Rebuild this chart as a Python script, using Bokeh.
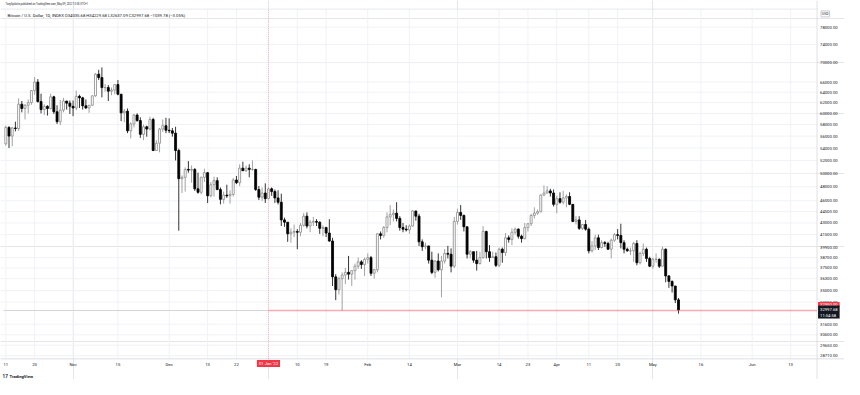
import numpy as np
import pandas as pd
from bokeh.plotting import figure
from bokeh.models import (Range1d, FixedTicker, NumeralTickFormatter, Label, ColumnDataSource,
                          DatetimeAxis, LogAxis)
from bokeh.embed import file_html
from bokeh.resources import INLINE

# ---------------- data (BTC/USD daily) ----------------
first_date = "2021-10-11"

opens = [
    54700, 57500, 56000, 57400, 57300, 61700, 60900, 61500, 62000, 64300, 66000, 62200, 60700, 61300, 60900, 63100, 60300, 58500, 60600, 62300, 61900,
    61300, 61000, 63200, 62900, 61400, 61000, 61500, 63300, 67600, 66900, 64900, 64900, 64200, 64400, 65500, 63600, 60100, 60400, 56900, 58100, 59700, 58700, 56300, 57600, 57200, 58900, 53600, 54800, 57200, 57800,
    57000, 56900, 56500, 53600, 49200, 49400, 50600, 50500, 50600, 47700, 47200, 49400, 50100, 46700, 48300, 48900, 47600, 46200, 46800, 46700, 46900, 49000, 48600, 50800, 50400, 50800, 50600, 50600, 47600, 46500, 47100,
    46300, 47700, 47300, 46400, 45800, 43400, 43100, 41600, 41800, 41900, 41800, 42700, 43900, 42600, 43100, 43200, 43100, 42300, 42400, 41700, 40700, 36500, 35100, 36300, 36700, 37000, 36800, 37200, 37700, 38200, 37900,
    38500, 38700, 36900, 37300, 41600, 41400, 42400, 43800, 44100, 44300, 43600, 42400, 42200, 42100, 42600, 44600, 43900, 40600, 40000, 40100, 38400, 37000, 38300, 37300, 38300, 39200, 39100, 37700,
    43200, 44400, 44000, 42500, 39100, 39400, 38400, 38000, 38700, 41900, 39400, 38700, 38800, 37800, 39700, 39300, 41100, 40900, 41800, 42200, 41300, 41000, 42400, 42900, 44000, 44300, 44500, 46800, 47100, 47400, 47100,
    45500, 46300, 45800, 46400, 46600, 45500, 43200, 43400, 42300, 42800, 42200, 39500, 40100, 41100, 39900, 40500, 40400, 39700, 40800, 41500, 41400, 40500, 39700, 39500, 39500, 40400, 38100, 39200, 39700, 38600,
    37700, 38500, 38500, 37700, 39700, 36600, 36000, 35500, 34035.68,
]
highs = [
    57800, 57700, 57600, 58500, 62800, 62300, 61700, 62600, 64400, 67000, 66600, 63700, 61700, 61500, 63700, 63300, 61500, 62500, 62900, 62300, 62400,
    62400, 64300, 63500, 63100, 62600, 61500, 63300, 67800, 68500, 69000, 65600, 65400, 64900, 65500, 66400, 63600, 60800, 60900, 58400, 59900, 60000, 59300, 58000, 57800, 59400, 59200, 55300, 57400, 58900, 59200,
    59100, 57400, 57600, 53900, 49700, 50900, 51900, 51200, 50800, 50100, 49500, 50700, 50200, 48700, 49500, 49400, 47900, 47300, 48300, 47500, 49300, 49600, 51400, 51800, 51200, 51400, 52000, 50700, 48100, 47900, 48500,
    47900, 47900, 47600, 47500, 47000, 43700, 43100, 42300, 42800, 42200, 43000, 44300, 44400, 43400, 43800, 43500, 43200, 42700, 42500, 43500, 41100, 36800, 36500, 37000, 37500, 38900, 37200, 38000, 38700, 38400, 38700,
    39200, 38900, 37400, 41700, 41900, 42600, 44400, 45400, 44800, 45800, 43900, 43000, 42700, 42800, 44700, 44600, 44200, 40900, 40500, 40100, 39400, 38400, 39200, 38900, 39700, 40100, 39800, 43800,
    44900, 45400, 44100, 42500, 39600, 39400, 39500, 39400, 42600, 42000, 40200, 39400, 39300, 39900, 39900, 41700, 41400, 42300, 42400, 42300, 41500, 43000, 43000, 44200, 45100, 44800, 46900, 48200, 48100, 47700, 47600,
    46700, 47200, 47400, 46900, 47200, 45500, 43900, 43900, 42800, 43400, 42400, 40700, 41500, 41500, 40800, 40700, 40600, 41000, 41700, 42200, 42900, 40800, 39900, 39900, 40600, 40800, 39400, 40400, 39900, 38800,
    38700, 39200, 38600, 40000, 39800, 36700, 36100, 35500, 34229.68,
]
lows = [
    54400, 54000, 54300, 56800, 56900, 60200, 58900, 60000, 61600, 63500, 62000, 60000, 59700, 59600, 60700, 59900, 58100, 57900, 60200, 60700, 59900,
    59500, 60600, 61000, 60700, 60800, 60100, 61400, 63100, 66400, 63000, 64100, 62300, 63400, 63600, 63400, 58600, 58400, 56500, 55600, 57500, 58500, 55700, 55300, 55900, 57000, 53500, 53600, 53300, 56700, 56500,
    56500, 55900, 52000, 42000, 47100, 47300, 50100, 48600, 47400, 47000, 46900, 48700, 45700, 46500, 46600, 47500, 45500, 45600, 46400, 45600, 46600, 48400, 48100, 50400, 50200, 49400, 50400, 47400, 46100, 46000, 45700,
    46200, 46700, 45700, 45500, 42600, 42500, 40600, 40500, 41200, 39700, 41300, 42500, 42300, 41800, 42600, 42600, 41600, 41300, 41200, 40600, 35500, 34000, 34600, 32950, 35700, 36200, 35500, 36200, 37400, 37400, 36600,
    38000, 36600, 36300, 37000, 40900, 41100, 41800, 42700, 43200, 43200, 42000, 41800, 41900, 41600, 42500, 43300, 40100, 39500, 39700, 38000, 36800, 36400, 37100, 34300, 38000, 38600, 37000, 37500,
    42800, 43400, 41900, 38600, 38600, 38100, 37200, 37900, 38600, 38600, 38200, 38700, 37600, 37600, 38100, 38900, 40500, 40200, 41500, 41000, 40500, 40900, 41900, 42600, 43600, 44100, 44400, 46700, 47000, 46600, 45200,
    44300, 45600, 45500, 45100, 45400, 43100, 42800, 42100, 42100, 42000, 39200, 39300, 39600, 39600, 39800, 40000, 39600, 38600, 40600, 40900, 39800, 39200, 39400, 39000, 38200, 37800, 37900, 38900, 38200, 37600,
    37400, 38100, 37500, 37700, 35900, 35300, 34800, 33700, 32637.09,
]
closes = [
    57500, 56000, 57400, 57300, 61700, 60900, 61500, 62000, 64300, 66000, 62200, 60700, 61300, 60900, 63100, 60300, 58500, 60600, 62300, 61900, 61300,
    61000, 63200, 62900, 61400, 61000, 61500, 63300, 67600, 66900, 64900, 64900, 64200, 64400, 65500, 63600, 60100, 60400, 56900, 58100, 59700, 58700, 56300, 57600, 57200, 58900, 53600, 54800, 57200, 57800, 57000,
    56900, 56500, 53600, 49200, 49400, 50600, 50500, 50600, 47700, 47200, 49400, 50100, 46700, 48300, 48900, 47600, 46200, 46800, 46700, 46900, 49000, 48600, 50800, 50400, 50800, 50600, 50600, 47600, 46500, 47100, 46300,
    47700, 47300, 46400, 45800, 43400, 43100, 41600, 41800, 41900, 41800, 42700, 43900, 42600, 43100, 43200, 43100, 42300, 42400, 41700, 40700, 36500, 35100, 36300, 36700, 37000, 36800, 37200, 37700, 38200, 37900, 38500,
    38700, 36900, 37300, 41600, 41400, 42400, 43800, 44100, 44300, 43600, 42400, 42200, 42100, 42600, 44600, 43900, 40600, 40000, 40100, 38400, 37000, 38300, 37300, 38300, 39200, 39100, 37700, 43200,
    44400, 44000, 42500, 39100, 39400, 38400, 38000, 38700, 41900, 39400, 38700, 38800, 37800, 39700, 39300, 41100, 40900, 41800, 42200, 41300, 41000, 42400, 42900, 44000, 44300, 44500, 46800, 47100, 47400, 47100, 45500,
    46300, 45800, 46400, 46600, 45500, 43200, 43400, 42300, 42800, 42200, 39500, 40100, 41100, 39900, 40500, 40400, 39700, 40800, 41500, 41400, 40500, 39700, 39500, 39500, 40400, 38100, 39200, 39700, 38600, 37700,
    38500, 38500, 37700, 39700, 36600, 36000, 35500, 34037.46, 32997.68,
]

price_ticks = [28710, 29650, 30600, 31600, 33800, 35000, 36300, 37500, 38700, 39900,
               41500, 43000, 44500, 46000, 48000, 50000, 52000, 54000, 56000, 58000,
               60000, 62000, 64000, 66000, 70000, 74000, 78000]

date_ticks = ["2021-10-11", "2021-10-20", "2021-11-01", "2021-11-15", "2021-12-01", "2021-12-13",
              "2021-12-22", "2022-01-01", "2022-01-10", "2022-01-19", "2022-02-01", "2022-02-14",
              "2022-03-01", "2022-03-14", "2022-03-23", "2022-04-01", "2022-04-11", "2022-04-20",
              "2022-05-01", "2022-05-16", "2022-06-01", "2022-06-13"]
date_labels = ["11", "20", "Nov", "15", "Dec", "13", "22", "", "10", "19", "Feb", "14",
               "Mar", "14", "23", "Apr", "11", "20", "May", "16", "Jun", "13"]

hline_price = 32950
ray_start = "2022-01-01"
countdown = "11:54:58"

header = "TonySpilotro published on TradingView.com, May 09, 2022 13:05 UTC+1"
legend = "Bitcoin / U.S. Dollar, 1D, INDEX  O34035.68  H34229.68  L32637.09  C32997.68  \u22121039.78 (\u22123.05%)"

# ---------------- layout constants ----------------
FONT = "Roboto"
TXT = "#131722"
GRID = "#f1f2f6"
BORDER = "#d6d8de"
DAY = 86400000
W, H = 844, 379

view_x = (pd.Timestamp("2021-10-09 08:18"), pd.Timestamp("2022-06-29 19:40"))
view_y = (26714, 84573)
pane_left = pd.Timestamp("2021-10-10 07:00")
pane_right = pd.Timestamp("2022-06-21 06:00")   # price scale starts here
pane_bottom = 28445                              # time scale starts here
pane_top = 82380

def ms(t):
    return int(pd.Timestamp(t).value // 10**6)

# ---------------- build ----------------
dates = pd.date_range(first_date, periods=len(closes), freq="D")
o = np.array(opens, float); h = np.array(highs, float)
l = np.array(lows, float); c = np.array(closes, float)
up = c >= o
dn = ~up
src_up = ColumnDataSource(dict(x=dates[up], top=c[up], bottom=o[up], high=h[up], low=l[up]))
src_dn = ColumnDataSource(dict(x=dates[dn], top=o[dn], bottom=c[dn], high=h[dn], low=l[dn]))

p = figure(width=W, height=H, x_axis_type="datetime", y_axis_type="log",
           x_axis_location=None, y_axis_location=None, title=None,
           x_range=Range1d(*view_x), y_range=Range1d(*view_y),
           output_backend="svg", toolbar_location=None,
           min_border_left=0, min_border_right=0, min_border_top=0, min_border_bottom=0)
p.background_fill_color = "white"
p.border_fill_color = "white"
p.outline_line_color = None

tick_ms = [ms(d) for d in date_ticks]
xticker = FixedTicker(ticks=tick_ms)
yticker = FixedTicker(ticks=price_ticks)

# grid of the price pane, drawn on the tick values (one line per tick);
# the 39900 line rendered as a hard dark stroke, so it is left out
for t in price_ticks:
    if t == 39900:
        continue
    p.line(x=[view_x[0], pane_right], y=[t, t], line_color=GRID, line_width=1)
for d in date_ticks:
    p.line(x=[pd.Timestamp(d), pd.Timestamp(d)], y=[pane_bottom, pane_top],
           line_color=GRID, line_width=1)
# pane borders (top, bottom, right)
p.line(x=[view_x[0], pane_right], y=[pane_top, pane_top], line_color="#e0e3eb", line_width=0.8)
p.line(x=[view_x[0], view_x[1]], y=[pane_bottom, pane_bottom], line_color=BORDER, line_width=0.8)
p.line(x=[pane_right, pane_right], y=[view_y[0], view_y[1]], line_color=BORDER, line_width=0.8)

xaxis = DatetimeAxis(ticker=xticker, fixed_location=pane_bottom)
xaxis.major_label_overrides = {t: s for t, s in zip(tick_ms, date_labels)}
yaxis = LogAxis(ticker=yticker, fixed_location=ms(pane_right),
                formatter=NumeralTickFormatter(format="0.00"))
for ax in (xaxis, yaxis):
    ax.major_tick_line_color = None
    ax.minor_tick_line_color = None
    ax.major_tick_out = 0
    ax.major_tick_in = 0
    ax.minor_tick_out = 0
    ax.minor_tick_in = 0
    ax.axis_line_color = None
    ax.major_label_text_font_size = "4.2px"
    ax.major_label_text_color = TXT
    ax.major_label_text_font = FONT
    ax.major_label_standoff = 3
p.add_layout(xaxis, "below")
p.add_layout(yaxis, "right")

# light crosshair line left of the ray
p.line(x=[pane_left, pd.Timestamp(ray_start)], y=[hline_price, hline_price],
       line_color="#d3d5da", line_width=1)

# candles
p.segment(x0="x", y0="low", x1="x", y1="high", source=src_up, line_color="#8a8a8a", line_width=0.8)
p.segment(x0="x", y0="low", x1="x", y1="high", source=src_dn, line_color="#000000", line_width=0.8)
p.vbar(x="x", width=0.62 * DAY, top="top", bottom="bottom", source=src_up,
       fill_color="white", line_color="#8a8a8a", line_width=0.8)
p.vbar(x="x", width=0.62 * DAY, top="top", bottom="bottom", source=src_dn,
       fill_color="#000000", line_color="#000000", line_width=0.8)

# horizontal ray and vertical crosshair
p.line(x=[pd.Timestamp(ray_start), pane_right], y=[hline_price, hline_price],
       line_color="#f7525f", line_alpha=0.5, line_width=1.6)
p.line(x=[pd.Timestamp(ray_start), pd.Timestamp(ray_start)], y=[pane_bottom, pane_top],
       line_color="#f7525f", line_alpha=0.5, line_dash="1 1", line_width=0.8)

# texts
p.add_layout(Label(x=5, y=H - 3.8, x_units="screen", y_units="screen", text=header,
                   text_font=FONT, text_font_size="2.6px", text_color=TXT, text_baseline="middle"))
p.add_layout(Label(x=7, y=H - 15.4, x_units="screen", y_units="screen", text=legend,
                   text_font=FONT, text_font_size="4.2px", text_color=TXT, text_baseline="middle"))

# date tag for the crosshair
p.add_layout(Label(x=pd.Timestamp(ray_start), y=H - 363, x_units="data", y_units="screen",
                   text="01 Jan '22", text_font=FONT, text_font_size="4.2px", text_color="white",
                   text_align="center", text_baseline="middle",
                   background_fill_color="#f23645", padding=dict(x=2, y=1)))

# price tags on the price scale
p.add_layout(Label(x=pane_right, y=hline_price, x_units="data", y_units="data",
                   x_offset=1, y_offset=6,
                   text=f"{hline_price:.2f}", text_font=FONT, text_font_size="4.2px",
                   text_color="white", text_baseline="middle",
                   background_fill_color="#f23645", padding=dict(x=2, y=1)))
p.add_layout(Label(x=pane_right, y=closes[-1], x_units="data", y_units="data",
                   x_offset=1, y_offset=-2,
                   text=f"{closes[-1]:.2f}\n{countdown}", text_font=FONT, text_font_size="4.2px",
                   text_color="white", text_baseline="middle",
                   background_fill_color="#131722", padding=dict(x=2, y=1)))
p.add_layout(Label(x=pane_right, y=H - 13.4, x_units="data", y_units="screen", x_offset=4,
                   text="USD", text_font=FONT, text_font_size="3.4px", text_color=TXT,
                   text_baseline="middle", background_fill_color="white",
                   border_line_color="#c8cad0", padding=1))

# TradingView footer
p.add_layout(Label(x=2, y=H - 375.5, x_units="screen", y_units="screen", text="17",
                   text_font=FONT, text_font_size="4.6px", text_font_style="bold",
                   text_color=TXT, text_baseline="middle"))
p.add_layout(Label(x=9, y=H - 375.5, x_units="screen", y_units="screen", text="TradingView",
                   text_font=FONT, text_font_size="4.2px", text_font_style="bold",
                   text_color=TXT, text_baseline="middle"))

open("out.html", "w").write(file_html(p, INLINE, title="BTCUSD"))
